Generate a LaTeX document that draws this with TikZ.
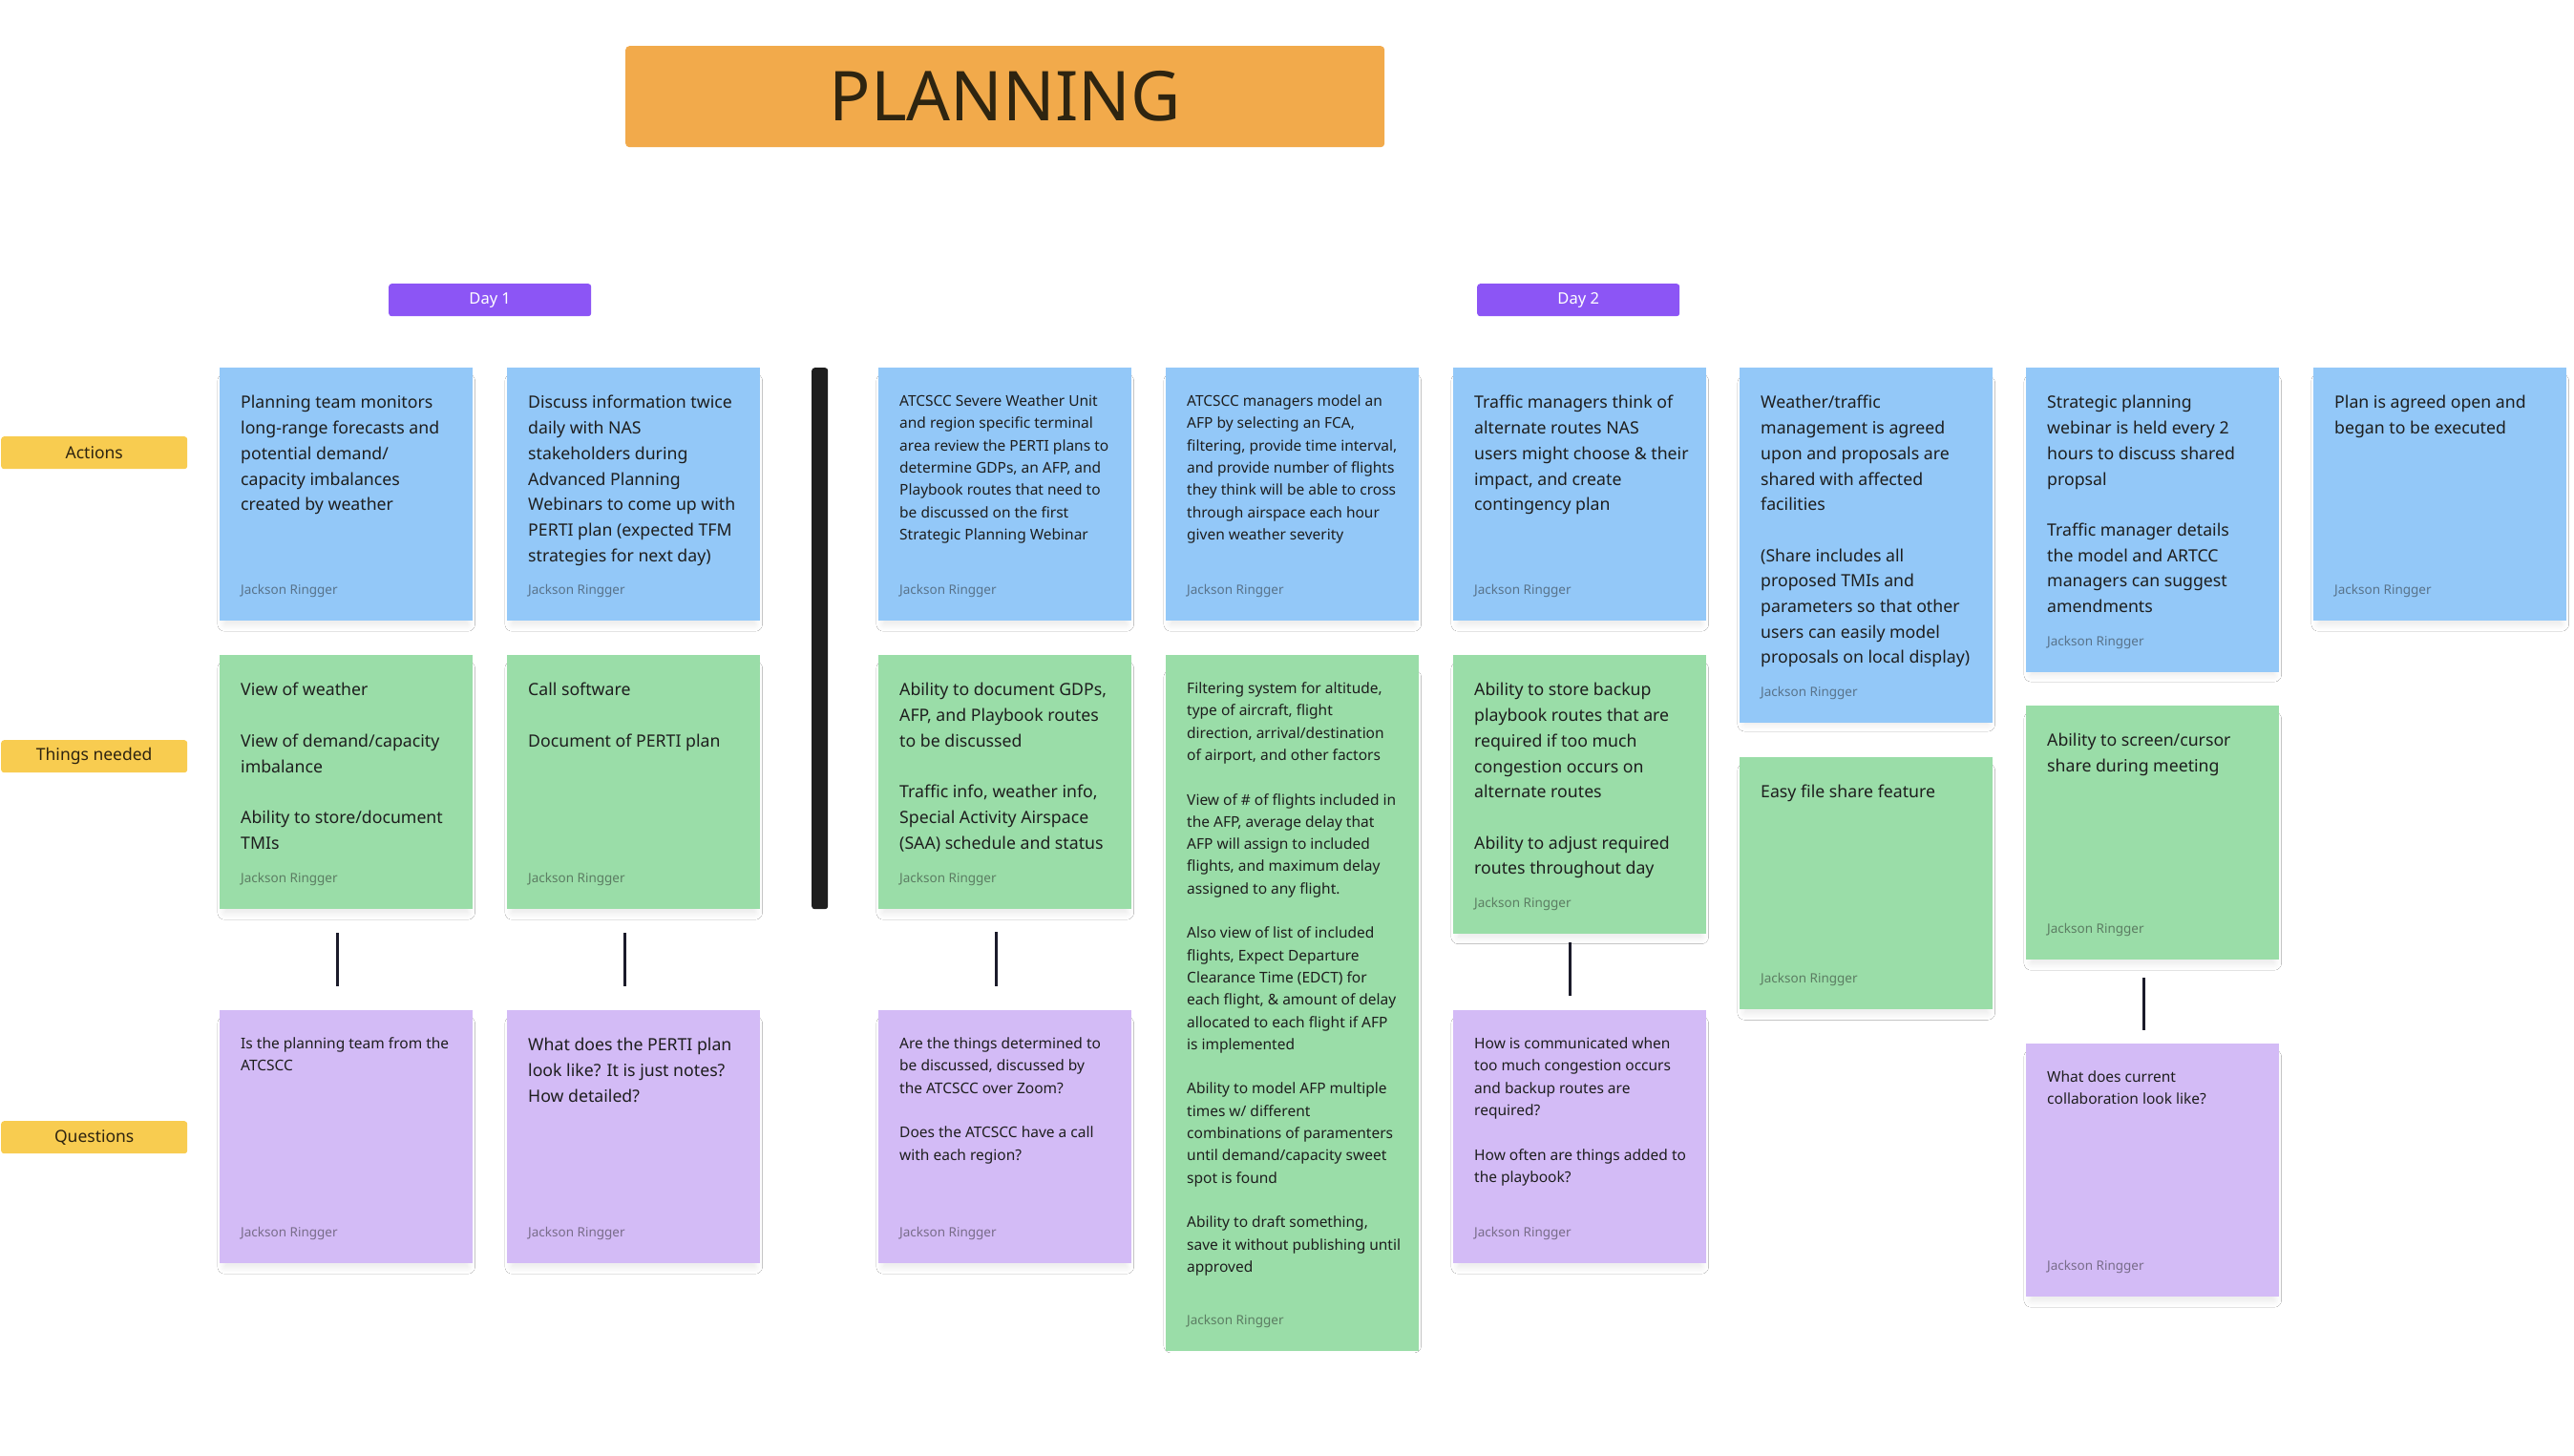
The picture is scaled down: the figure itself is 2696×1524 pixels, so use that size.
\documentclass[tikz,border=0pt]{standalone}
\usepackage{fontspec}
\setmainfont{Noto Sans}
\usetikzlibrary{shadows.blur}
\definecolor{blueN}{HTML}{93C8F8}
\definecolor{greenN}{HTML}{9ADDA8}
\definecolor{purpN}{HTML}{D3BBF6}
\definecolor{yel}{HTML}{F8CC50}
\definecolor{orng}{HTML}{F2AA4B}
\definecolor{dayp}{HTML}{8C55F5}
\definecolor{ink}{HTML}{1E1E1E}
\definecolor{labink}{HTML}{2E2410}
\definecolor{connc}{HTML}{1B1B2A}
\newcommand\gapline{\\[\baselineskip]}
\newcommand\stickynote[7]{%
  \node[card, fill=#5, minimum height=#4pt] (#1) at (#2,#3) {};
  \node[#6] (#1t) at ([xshift=22pt,yshift=-24pt]#1.north west) {\strut #7};
  \node[author] (#1a) at ([xshift=22pt,yshift=31pt]#1.south west) {Jackson Ringger};
}
\begin{document}
\begin{tikzpicture}[x=1pt,y=-1pt,
  card/.style={anchor=north west, minimum width=265pt, inner sep=0pt, draw=none,
    blur shadow={shadow xshift=0pt,shadow yshift=-9pt,shadow scale=0.96,shadow blur radius=8pt,shadow blur steps=10,shadow opacity=10}},
  notebig/.style={anchor=north west, inner sep=0pt, align=left, text=ink, font=\fontsize{17.7}{26.7}\selectfont},
  notesmall/.style={anchor=north west, inner sep=0pt, align=left, text=ink, font=\fontsize{15.5}{23.3}\selectfont},
  author/.style={anchor=west, inner sep=0pt, text=ink, text opacity=0.5, font=\fontsize{13.5}{16}\selectfont},
  rowlabel/.style={fill=yel, rounded corners=3pt, minimum width=195pt, minimum height=34pt, inner sep=0pt, anchor=north west, font=\fontsize{17.5}{20}\selectfont, text=labink},
  daytag/.style={fill=dayp, rounded corners=3pt, minimum width=212pt, minimum height=34pt, inner sep=0pt, anchor=north west, font=\fontsize{16.5}{20}\selectfont, text=white},
  conn/.style={draw=connc, line width=3pt}
]
\fill[white] (0,0) rectangle (2696,1524);
\useasboundingbox (0,0) rectangle (2696,1524);

% title
\node[fill=orng, rounded corners=4pt, minimum width=795pt, minimum height=106pt, inner sep=0pt, anchor=north west,
  font=\fontsize{72}{80}\selectfont\bfseries, text=labink] (title) at (655,48) {PLANNING};

% day tags
\node[daytag] (day1) at (407,297) {Day 1};
\node[daytag] (day2) at (1547,297) {Day 2};

% row labels
\node[rowlabel] (lact) at (1,457) {Actions};
\node[rowlabel] (lthn) at (1,775) {Things needed};
\node[rowlabel] (lque) at (1,1174) {Questions};

% separator bar
\node[fill=ink, rounded corners=3pt, minimum width=17pt, minimum height=567pt, inner sep=0pt, anchor=north west] (bar) at (850,385) {};

% Actions
\stickynote{a1}{230}{385}{265}{blueN}{notebig}{Planning team monitors\\long-range forecasts and\\potential demand/\\capacity imbalances\\created by weather}
\stickynote{a2}{531}{385}{265}{blueN}{notebig}{Discuss information twice\\daily with NAS\\stakeholders during\\Advanced Planning\\Webinars to come up with\\PERTI plan (expected TFM\\strategies for next day)}
\stickynote{a3}{920}{385}{265}{blueN}{notesmall}{ATCSCC Severe Weather Unit\\and region specific terminal\\area review the PERTI plans to\\determine GDPs, an AFP, and\\Playbook routes that need to\\be discussed on the first\\Strategic Planning Webinar}
\stickynote{a4}{1221}{385}{265}{blueN}{notesmall}{ATCSCC managers model an\\AFP by selecting an FCA,\\filtering, provide time interval,\\and provide number of flights\\they think will be able to cross\\through airspace each hour\\given weather severity}
\stickynote{a5}{1522}{385}{265}{blueN}{notebig}{Traffic managers think of\\alternate routes NAS\\users might choose \& their\\impact, and create\\contingency plan}
\stickynote{a6}{1822}{385}{372}{blueN}{notebig}{Weather/traffic\\management is agreed\\upon and proposals are\\shared with affected\\facilities\gapline(Share includes all\\proposed TMIs and\\parameters so that other\\users can easily model\\proposals on local display)}
\stickynote{a7}{2122}{385}{319}{blueN}{notebig}{Strategic planning\\webinar is held every 2\\hours to discuss shared\\propsal\gapline Traffic manager details\\the model and ARTCC\\managers can suggest\\amendments}
\stickynote{a8}{2423}{385}{265}{blueN}{notebig}{Plan is agreed open and\\began to be executed}

% Things needed
\stickynote{g1}{230}{686}{266}{greenN}{notebig}{View of weather\gapline View of demand/capacity\\imbalance\gapline Ability to store/document\\TMIs}
\stickynote{g2}{531}{686}{266}{greenN}{notebig}{Call software\gapline Document of PERTI plan}
\stickynote{g3}{920}{686}{266}{greenN}{notebig}{Ability to document GDPs,\\AFP, and Playbook routes\\to be discussed\gapline Traffic info, weather info,\\Special Activity Airspace\\(SAA) schedule and status}
\stickynote{g4}{1221}{686}{729}{greenN}{notesmall}{Filtering system for altitude,\\type of aircraft, flight\\direction, arrival/destination\\of airport, and other factors\gapline View of \# of flights included in\\the AFP, average delay that\\AFP will assign to included\\flights, and maximum delay\\assigned to any flight.\gapline Also view of list of included\\flights, Expect Departure\\Clearance Time (EDCT) for\\each flight, \& amount of delay\\allocated to each flight if AFP\\is implemented\gapline Ability to model AFP multiple\\times w/ different\\combinations of paramenters\\until demand/capacity sweet\\spot is found\gapline Ability to draft something,\\save it without publishing until\\approved}
\stickynote{g5}{1522}{686}{292}{greenN}{notebig}{Ability to store backup\\playbook routes that are\\required if too much\\congestion occurs on\\alternate routes\gapline Ability to adjust required\\routes throughout day}
\stickynote{g6}{1822}{793}{264}{greenN}{notebig}{Easy file share feature}
\stickynote{g7}{2122}{739}{266}{greenN}{notebig}{Ability to screen/cursor\\share during meeting}

% Questions
\stickynote{q1}{230}{1058}{265}{purpN}{notesmall}{Is the planning team from the\\ATCSCC}
\stickynote{q2}{531}{1058}{265}{purpN}{notebig}{What does the PERTI plan\\look like? It is just notes?\\How detailed?}
\stickynote{q3}{920}{1058}{265}{purpN}{notesmall}{Are the things determined to\\be discussed, discussed by\\the ATCSCC over Zoom?\gapline Does the ATCSCC have a call\\with each region?}
\stickynote{q5}{1522}{1058}{265}{purpN}{notesmall}{How is communicated when\\too much congestion occurs\\and backup routes are\\required?\gapline How often are things added to\\the playbook?}
\stickynote{q7}{2122}{1093}{265}{purpN}{notesmall}{What does current\\collaboration look like?}

% connectors
\draw[conn, shorten <=25pt, shorten >=25pt] ([xshift=-9pt]g1.south) -- ([xshift=-9pt]q1.north);
\draw[conn, shorten <=25pt, shorten >=25pt] ([xshift=-9pt]g2.south) -- ([xshift=-9pt]q2.north);
\draw[conn, shorten <=24pt, shorten >=25pt] ([xshift=-9pt]g3.south) -- ([xshift=-9pt]q3.north);
\draw[conn, shorten <=9pt, shorten >=15pt] ([xshift=-10pt]g5.south) -- ([xshift=-10pt]q5.north);
\draw[conn, shorten <=19pt, shorten >=14pt] ([xshift=-9pt]g7.south) -- ([xshift=-9pt]q7.north);
\end{tikzpicture}
\end{document}
